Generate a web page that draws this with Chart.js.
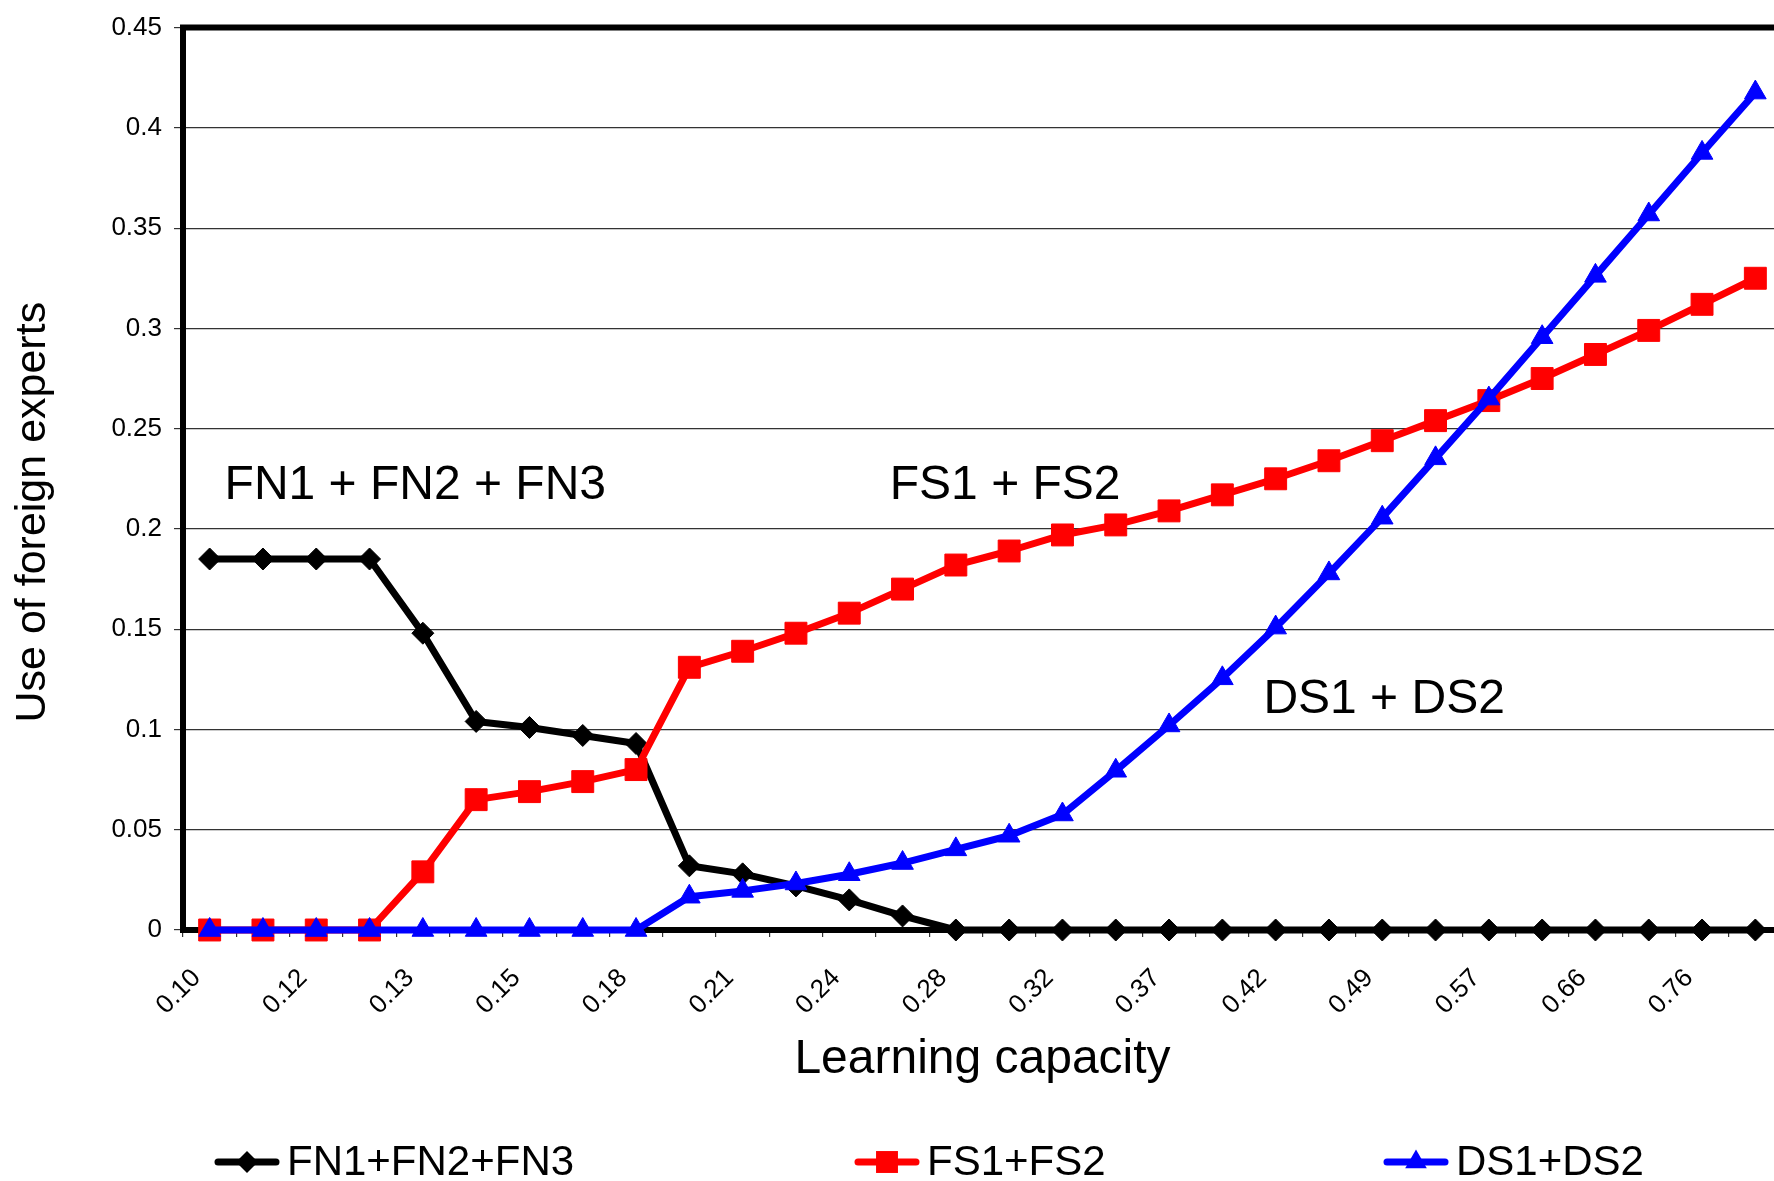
<!DOCTYPE html>
<html>
<head>
<meta charset="utf-8">
<script src="https://cdn.jsdelivr.net/npm/chart.js@4.4.1/dist/chart.umd.min.js"></script>
<style>
html,body{margin:0;padding:0;background:#fff;overflow:hidden;width:1774px;height:1181px;}
#wrap{position:relative;width:1774px;height:1181px;overflow:hidden;}
#c{position:absolute;left:0;top:0;display:block;}
</style>
</head>
<body>
<div id="wrap"><canvas id="c" width="1788" height="1181" style="width:1788px;height:1181px;"></canvas></div>
<script>
// ---- data ----
const categories = ['0.10','','0.12','','0.13','','0.15','','0.18','','0.21','','0.24','','0.28','','0.32','','0.37','','0.42','','0.49','','0.57','','0.66','','0.76',''];
const seriesNames = ['FN1+FN2+FN3','FS1+FS2','DS1+DS2'];
const fnValues = [0.185,0.185,0.185,0.185,0.148,0.104,0.101,0.097,0.093,0.032,0.028,0.022,0.015,0.007,0,0,0,0,0,0,0,0,0,0,0,0,0,0,0,0];
const fsValues = [0,0,0,0,0.029,0.065,0.069,0.074,0.080,0.131,0.139,0.148,0.158,0.170,0.182,0.189,0.197,0.202,0.209,0.217,0.225,0.234,0.244,0.254,0.264,0.275,0.287,0.299,0.312,0.325];
const dsValues = [0,0,0,0,0,0,0,0,0,0.0166,0.0195,0.0232,0.0278,0.0334,0.0402,0.047,0.0576,0.0794,0.102,0.1255,0.1508,0.1778,0.2056,0.2352,0.265,0.2956,0.3262,0.3568,0.3875,0.4176];
const yTicks = [0,0.05,0.1,0.15,0.2,0.25,0.3,0.35,0.4,0.45];
const xTitle = 'Learning capacity';
const yTitle = 'Use of foreign experts';
const annotationTexts = ['FN1 + FN2 + FN3','FS1 + FS2','DS1 + DS2'];

// ---- styling / layout ----
const FONT = '"Liberation Sans", Arial, Helvetica, sans-serif';
Chart.defaults.font.family = FONT;
Chart.defaults.color = '#000';

const seriesColors = ['#000000','#ff0000','#0000ff'];
const seriesPoint = ['rectRot','rect','triangle'];
const seriesRadius = [11,15.5,12.5];
const annotationAnchors = [{x:0.28,y:0.2151},{x:12.76,y:0.2151},{x:19.77,y:0.108}];

function drawMarker(ctx, style, x, y, r, color){
  ctx.fillStyle = color;
  ctx.beginPath();
  if(style==='rectRot'){ctx.moveTo(x-r,y);ctx.lineTo(x,y-r);ctx.lineTo(x+r,y);ctx.lineTo(x,y+r);}
  else if(style==='rect'){const s=r*Math.SQRT1_2;ctx.rect(x-s,y-s,2*s,2*s);}
  else {ctx.moveTo(x,y-r);ctx.lineTo(x+0.866*r,y+r/2);ctx.lineTo(x-0.866*r,y+r/2);}
  ctx.closePath();
  ctx.fill();
}

const framePlugin = {
  id:'frame',
  beforeDatasetsDraw(chart){
    const {ctx, chartArea:a} = chart;
    ctx.save();
    ctx.strokeStyle='#000'; ctx.lineWidth=6;
    ctx.beginPath();
    ctx.moveTo(a.left-3,a.top); ctx.lineTo(a.right,a.top); ctx.lineTo(a.right,a.bottom);
    ctx.stroke();
    ctx.restore();
  }
};

const textPlugin = {
  id:'texts',
  afterDraw(chart){
    const {ctx, chartArea:a, scales} = chart;
    ctx.save();
    // y axis title
    ctx.font = '43px '+FONT;
    ctx.fillStyle='#000';
    ctx.textAlign='center'; ctx.textBaseline='alphabetic';
    ctx.translate(45, a.top + 0.537*(a.bottom-a.top));
    ctx.rotate(-Math.PI/2);
    ctx.fillText(yTitle,0,0);
    ctx.restore();

    // in-plot annotations
    ctx.save();
    ctx.font = '48px '+FONT;
    ctx.fillStyle='#000';
    ctx.textAlign='left'; ctx.textBaseline='alphabetic';
    annotationTexts.forEach((t,i)=>{
      const p = annotationAnchors[i];
      ctx.fillText(t, scales.x.getPixelForValue(p.x), scales.y.getPixelForValue(p.y));
    });
    ctx.restore();

    // legend
    const starts = [215,855,1384];
    const ly = 1162;
    ctx.save();
    ctx.font = '42px '+FONT;
    ctx.textAlign='left'; ctx.textBaseline='middle';
    chart.data.datasets.forEach((ds,i)=>{
      const x0 = starts[i];
      ctx.strokeStyle = seriesColors[i];
      ctx.lineWidth = 7; ctx.lineCap='round';
      ctx.beginPath(); ctx.moveTo(x0+3,ly); ctx.lineTo(x0+61,ly); ctx.stroke();
      drawMarker(ctx, seriesPoint[i], x0+32, ly, seriesRadius[i], seriesColors[i]);
      ctx.fillStyle='#000';
      ctx.fillText(ds.label, x0+72, ly+1);
    });
    ctx.restore();
  }
};

const makeDs = (i, data, order) => ({
  label: seriesNames[i],
  data: data,
  borderColor: seriesColors[i],
  backgroundColor: seriesColors[i],
  borderWidth: 7,
  borderJoinStyle: 'round',
  borderCapStyle: 'round',
  pointStyle: seriesPoint[i],
  pointRadius: seriesRadius[i],
  pointHoverRadius: seriesRadius[i],
  pointBorderWidth: 1,
  pointBorderColor: seriesColors[i],
  pointBackgroundColor: seriesColors[i],
  tension: 0,
  clip: false,
  order: order
});

new Chart(document.getElementById('c'), {
  type: 'line',
  data: {
    labels: categories,
    datasets: [makeDs(0, fnValues, 3), makeDs(1, fsValues, 2), makeDs(2, dsValues, 1)]
  },
  options: {
    responsive: false,
    maintainAspectRatio: false,
    animation: false,
    devicePixelRatio: 1,
    layout: { autoPadding: false, padding: { top: 24, right: 6, bottom: 91, left: 0 } },
    plugins: { legend: { display: false }, tooltip: { enabled: false } },
    scales: {
      x: {
        type: 'category',
        offset: true,
        afterFit(s){ s.height = 160; s.paddingLeft = 0; s.paddingRight = 0; },
        grid: { offset: true, drawOnChartArea: false, drawTicks: true, tickLength: 7, color: '#333', lineWidth: 1.2 },
        border: { display: true, color: '#000', width: 6 },
        ticks: { autoSkip: false, maxRotation: 45, minRotation: 45, padding: 26, labelOffset: -13, font: { size: 26 }, color: '#000' },
        title: { display: true, text: xTitle, font: { size: 48 }, padding: { top: 0, bottom: 1 }, color: '#000' }
      },
      y: {
        min: 0, max: 0.45,
        afterFit(s){ s.width = 183; },
        afterBuildTicks(s){ s.ticks = yTicks.map(v => ({ value: v })); },
        grid: { color: '#333', lineWidth: 1.2, tickLength: 9, drawTicks: true },
        border: { display: true, color: '#000', width: 6 },
        ticks: { padding: 12, font: { size: 26 }, color: '#000', callback: v => String(+Number(v).toFixed(2)) }
      }
    }
  },
  plugins: [framePlugin, textPlugin]
});
</script>
</body>
</html>
